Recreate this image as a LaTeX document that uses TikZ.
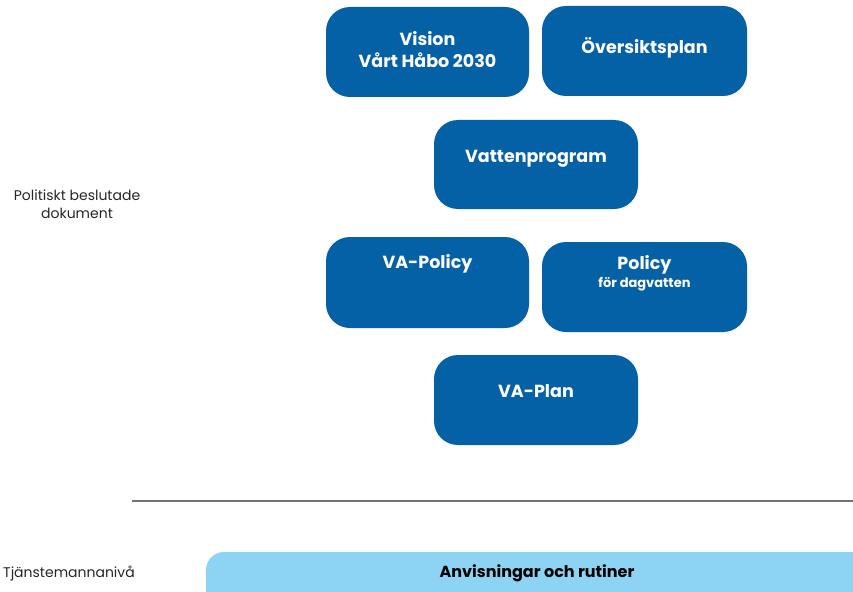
\documentclass[tikz,border=0pt]{standalone}
\usepackage{fontspec}
\setmainfont{Poppins}[BoldFont={Poppins Bold}]
\definecolor{darkbox}{HTML}{0461A6}
\definecolor{lightbox}{HTML}{8DD3F3}
\begin{document}
\begin{tikzpicture}[x=1pt,y=-1pt,
  bluebox/.style={fill=darkbox,draw=none,rounded corners=24pt},
  boxtext/.style={text=white,font=\bfseries\fontsize{17.5}{22}\selectfont,align=center,inner sep=0pt},
  sidetext/.style={font=\fontsize{14}{18}\selectfont,align=center,inner sep=0pt,text=black!85}]
\useasboundingbox (0,0) rectangle (853,591);
% boxes
\path[bluebox] (326,7) rectangle (529,97);
\node[boxtext] (vision) at (427.5,50) {Vision\\Vårt Håbo 2030};
\path[bluebox] (542,6) rectangle (747,96);
\node[boxtext] (oversikt) at (644.5,48) {Översiktsplan};
\path[bluebox] (434,120) rectangle (638,209);
\node[boxtext] (vatten) at (536,159) {Vattenprogram};
\path[bluebox] (326,237) rectangle (529,328);
\node[boxtext] (vapolicy) at (427.5,264) {VA-Policy};
\path[bluebox] (542,242) rectangle (747,332);
\node[boxtext] (policy) at (644.5,273) {Policy\\[-4pt]{\fontsize{13}{15}\selectfont för dagvatten}};
\path[bluebox] (434,355) rectangle (638,445);
\node[boxtext] (vaplan) at (536,391) {VA-Plan};
% divider
\coordinate (l1) at (132,501);
\coordinate (l2) at (853,501);
\draw[line width=1.3pt,draw=black!55] (l1) -- (l2);
% bottom band
\path[fill=lightbox,rounded corners=18pt] (206,552) rectangle (900,640);
\node[font=\bfseries\fontsize{16}{18}\selectfont,inner sep=0pt] (anvis) at (537,573) {Anvisningar och rutiner};
% side labels
\node[sidetext] (pol) at (77,204) {Politiskt beslutade\\dokument};
\node[sidetext,anchor=west] (tjan) at (3,574) {Tjänstemannanivå};
\end{tikzpicture}
\end{document}
